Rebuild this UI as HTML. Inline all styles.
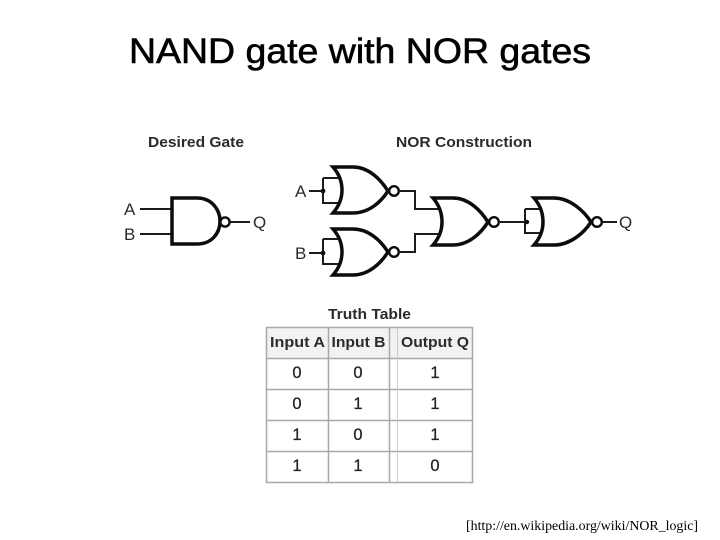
<!DOCTYPE html>
<html><head><meta charset="utf-8"><style>
html,body{margin:0;padding:0;background:#fff}
svg{display:block}
text{font-family:"Liberation Sans",sans-serif;fill:#1c1c1c}
.h{font-weight:bold;font-size:15px;fill:#2b2b2b}
.l{font-size:17px;fill:#2b2b2b}
.th{font-weight:bold;font-size:15px;fill:#2b2b2b;text-anchor:middle}
.td{font-size:16.500px;fill:#222;stroke:#222;stroke-width:.25;text-anchor:middle}
.g{fill:none;stroke:#0c0c0c;stroke-width:3.500}
.b{fill:#fff;stroke:#0c0c0c;stroke-width:2.400}
.w{fill:none;stroke:#1c1c1c;stroke-width:2}
.t{stroke:#a6aaaa;stroke-width:1.500;fill:none}
</style></head><body>
<svg width="720" height="540" viewBox="0 0 720 540" xmlns="http://www.w3.org/2000/svg">
<text x="129" y="63" font-size="35" textLength="462" lengthAdjust="spacingAndGlyphs" style="fill:#000;stroke:#000;stroke-width:.6">NAND gate with NOR gates</text>
<text class="h" x="148" y="147" textLength="96" lengthAdjust="spacingAndGlyphs">Desired Gate</text>
<text class="h" x="396" y="147" textLength="136" lengthAdjust="spacingAndGlyphs">NOR Construction</text>

<!-- NAND -->
<path class="w" d="M140 209H172M140 234H172M230 222H250"/>
<path class="g" d="M172 198H197C212 198 220 210 220 221C220 233 212 244 197 244H172Z"/>
<circle class="b" cx="225" cy="222" r="4.600"/>
<text class="l" x="124" y="215">A</text>
<text class="l" x="124" y="240">B</text>
<text class="l" x="253" y="228">Q</text>

<!-- NOR 1 -->
<path class="w" d="M309 191H323M323 178V203H340M323 178H340"/>
<circle cx="323" cy="191" r="2.400" fill="#111"/>
<path class="g" d="M333 167H353C369 167 381 180 388 191C381 202 369 213 353 213H333C340 205 342 197 342 190C342 183 340 175 333 167Z"/>
<circle class="b" cx="394" cy="191" r="4.800"/>
<path class="w" d="M399 191H415V209H441"/>
<text class="l" x="295" y="197">A</text>

<!-- NOR 2 -->
<path class="w" d="M309 253H323M323 239V264H340M323 239H340"/>
<circle cx="323" cy="253" r="2.400" fill="#111"/>
<path class="g" d="M333 229H353C369 229 381 241 388 252C381 263 369 275 353 275H333C340 267 342 259 342 252C342 245 340 237 333 229Z"/>
<circle class="b" cx="394" cy="252" r="4.800"/>
<path class="w" d="M399 252H415V234H441"/>
<text class="l" x="295" y="259">B</text>

<!-- NOR 3 -->
<path class="g" d="M433 198H453C469 198 481 211 488 222C481 233 469 245 453 245H433C440 237 442 229 442 222C442 215 440 206 433 198Z"/>
<circle class="b" cx="494" cy="222" r="4.800"/>
<path class="w" d="M499 222H525M525 209V233H541M525 209H541"/>
<circle cx="527" cy="222" r="2.200" fill="#111"/>

<!-- NOR 4 -->
<path class="g" d="M534 198H554C570 198 584 211 591 222C584 233 570 245 554 245H534C541 237 543 229 543 222C543 215 541 206 534 198Z"/>
<circle class="b" cx="597" cy="222" r="4.800"/>
<path class="w" d="M602 222H617"/>
<text class="l" x="619" y="228">Q</text>

<!-- Table -->
<text class="h" x="328" y="319" textLength="83" lengthAdjust="spacingAndGlyphs">Truth Table</text>
<rect x="267" y="328" width="205" height="30" fill="#f2f2f2"/>
<path class="t" d="M266.500 327.500H472.500V482.500H266.500Z"/>
<path class="t" d="M267 358.500H472M267 389.500H472M267 420.500H472M267 451.500H472M328.500 328V482M389.500 328V482"/>
<path d="M397.500 328V482" stroke="#c8cccc" stroke-width="1" fill="none"/>
<text class="th" x="297.500" y="347" textLength="55" lengthAdjust="spacingAndGlyphs">Input A</text>
<text class="th" x="358.500" y="347" textLength="54" lengthAdjust="spacingAndGlyphs">Input B</text>
<text class="th" x="435" y="347" textLength="68" lengthAdjust="spacingAndGlyphs">Output Q</text>
<text class="td" x="297" y="378">0</text><text class="td" x="358" y="378">0</text><text class="td" x="435" y="378">1</text>
<text class="td" x="297" y="409">0</text><text class="td" x="358" y="409">1</text><text class="td" x="435" y="409">1</text>
<text class="td" x="297" y="440">1</text><text class="td" x="358" y="440">0</text><text class="td" x="435" y="440">1</text>
<text class="td" x="297" y="471">1</text><text class="td" x="358" y="471">1</text><text class="td" x="435" y="471">0</text>

<text x="466" y="530" font-size="14" textLength="232" lengthAdjust="spacingAndGlyphs" style="font-family:'Liberation Serif',serif;fill:#000">[http://en.wikipedia.org/wiki/NOR_logic]</text>
</svg>
</body></html>
